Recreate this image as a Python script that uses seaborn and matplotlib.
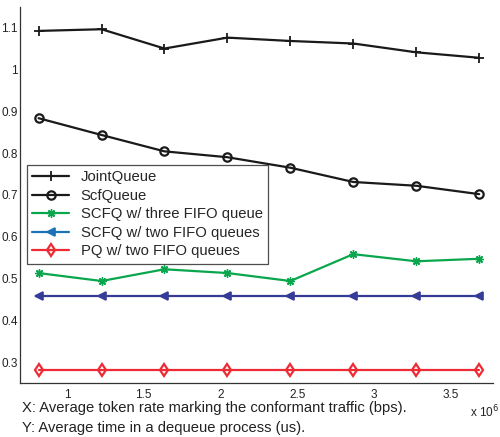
import matplotlib
matplotlib.use("Agg")
import matplotlib.pyplot as plt
import seaborn as sns
import pandas as pd

# Token rate (x 10^6 bps)
token_rate = [0.815, 1.225, 1.635, 2.045, 2.455, 2.865, 3.275, 3.685]

joint_queue = [1.091, 1.095, 1.049, 1.075, 1.067, 1.061, 1.040, 1.027]
scf_queue = [0.883, 0.843, 0.804, 0.790, 0.765, 0.731, 0.722, 0.702]
scfq_three_fifo = [0.514, 0.495, 0.523, 0.514, 0.495, 0.559, 0.542, 0.548]
scfq_two_fifo = [0.460, 0.460, 0.460, 0.460, 0.460, 0.460, 0.460, 0.460]
pq_two_fifo = [0.282, 0.282, 0.282, 0.282, 0.282, 0.282, 0.282, 0.282]

series_names = ["JointQueue", "ScfQueue", "SCFQ w/ three FIFO queue",
                "SCFQ w/ two FIFO queues", "PQ w/ two FIFO queues"]

x_ticks = [1, 1.5, 2, 2.5, 3, 3.5]
x_tick_labels = ["1", "1.5", "2", "2.5", "3", "3.5"]
y_ticks = [0.3, 0.4, 0.5, 0.6, 0.7, 0.8, 0.9, 1.0, 1.1]
y_tick_labels = ["0.3", "0.4", "0.5", "0.6", "0.7", "0.8", "0.9", "1", "1.1"]

sns.set_style("white")
plt.rcParams["font.family"] = ["Liberation Sans", "DejaVu Sans"]

fig = plt.figure(figsize=(5.0, 4.37), dpi=100)
ax = fig.add_axes([0.04, 0.1236, 0.946, 0.8604])

# eight-armed asterisk like the classic '*' plot symbol
asterisk = (8, 2, 0)

styles = [
    dict(color="#1a1a1a", marker="+", ms=7, mew=1.3, mfc="none"),
    dict(color="#1a1a1a", marker="o", ms=6, mew=1.6, mfc="none"),
    dict(color="#0aa64e", marker=asterisk, ms=6, mew=1.0),
    dict(color="#353c98", marker="<", ms=6, mew=1.2),
    dict(color="#ee2a35", marker="d", ms=6, mew=1.6, mfc="none"),
]
legend_colors = ["#1a1a1a", "#1a1a1a", "#0aa64e", "#1b72b5", "#ee2a35"]

all_values = [joint_queue, scf_queue, scfq_three_fifo, scfq_two_fifo, pq_two_fifo]
for name, vals, st in zip(series_names, all_values, styles):
    df = pd.DataFrame({"rate": token_rate, "time": vals})
    sns.lineplot(data=df, x="rate", y="time", ax=ax, label=name,
                 linewidth=1.6, color=st["color"], marker=st["marker"],
                 markersize=st["ms"], markeredgewidth=st["mew"],
                 markeredgecolor=st["color"],
                 markerfacecolor=st.get("mfc", st["color"]))

ax.set_xlim(0.694, 3.775)
ax.set_ylim(0.252, 1.148)
ax.set_xticks(x_ticks)
ax.set_xticklabels(x_tick_labels)
ax.set_yticks(y_ticks)
ax.set_yticklabels(y_tick_labels)
ax.set_xlabel("")
ax.set_ylabel("")
ax.tick_params(direction="in", length=4, width=0.8, labelsize=8.5,
               color="#222222", labelcolor="#222222")
ax.tick_params(axis="y", pad=1.5)
ax.tick_params(axis="x", pad=4)
for side in ("top", "right"):
    ax.spines[side].set_visible(False)
for side in ("left", "bottom"):
    ax.spines[side].set_color("#333333")
    ax.spines[side].set_linewidth(0.9)

leg = ax.legend(loc="upper left", bbox_to_anchor=(0.015, 0.579), fontsize=10.7,
                frameon=True, fancybox=False, edgecolor="#222222",
                handlelength=2.5, handletextpad=0.75, labelspacing=0.3,
                borderpad=0.35, borderaxespad=0)
leg.get_frame().set_linewidth(0.9)
for h, c in zip(leg.legend_handles, legend_colors):
    h.set_color(c)
    h.set_markeredgecolor(c)
    if h.get_markerfacecolor() != "none":
        h.set_markerfacecolor(c)

fig.text(0.043, 0.066, "X: Average token rate marking the conformant traffic (bps).",
         fontsize=10.6, va="center", ha="left", color="#222222")
fig.text(0.043, 0.021, "Y: Average time in a dequeue process (us).",
         fontsize=10.6, va="center", ha="left", color="#222222")
fig.text(0.998, 0.057, r"x 10$^{6}$", fontsize=8.5, va="center", ha="right",
         color="#222222")

fig.savefig("out.png", dpi=100)
